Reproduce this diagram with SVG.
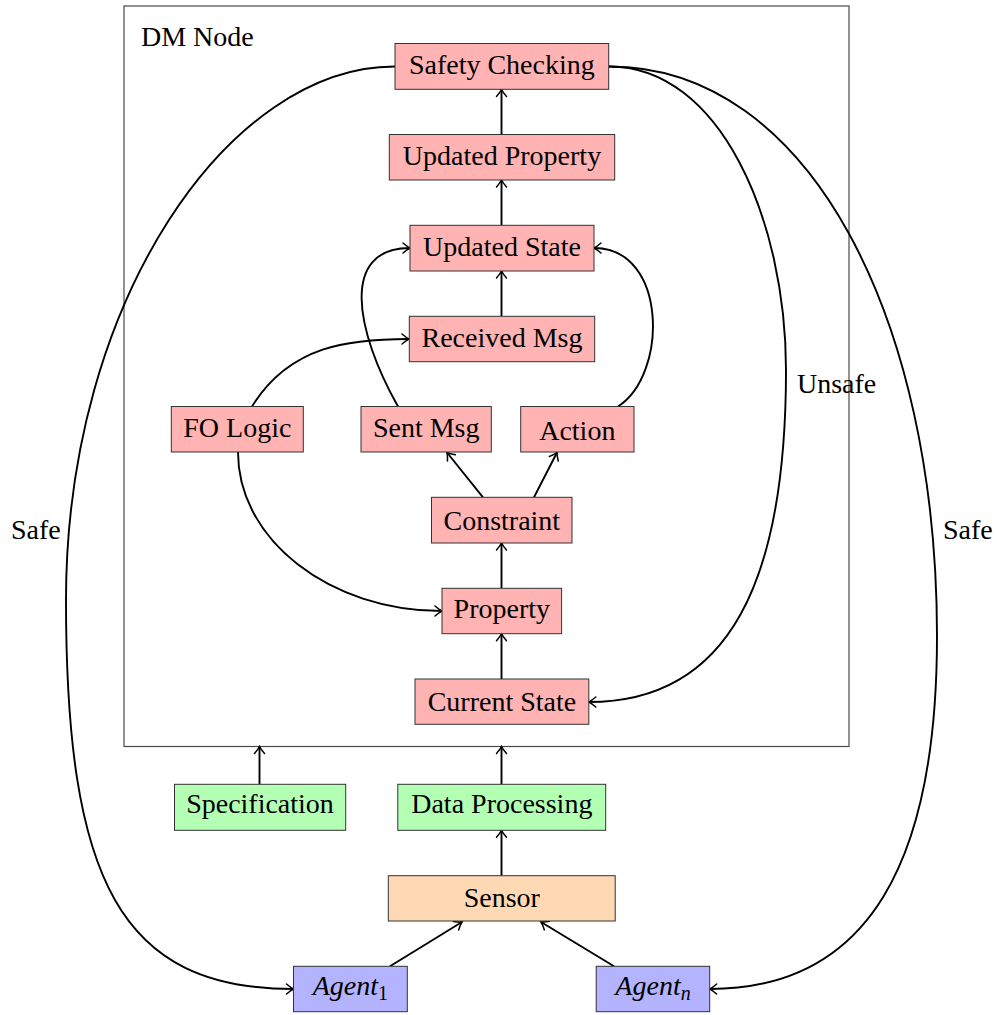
<svg xmlns="http://www.w3.org/2000/svg" width="997" height="1015" viewBox="0 0 997 1015">
<style>
text{font-family:"Liberation Serif","Times New Roman",serif;font-size:28px;fill:#000}
.n rect{stroke:#333;stroke-width:1}
.red rect{fill:#FFB3B3}
.green rect{fill:#B3FFB3}
.orange rect{fill:#FFD9B3}
.blue rect{fill:#B3B3FF}
.n text{text-anchor:middle}
#edges path{fill:none;stroke:#000;stroke-width:1.9;marker-end:url(#arr)}
</style>
<defs>
<marker id="arr" markerUnits="userSpaceOnUse" markerWidth="14" markerHeight="14" viewBox="-9 -7 11 14" refX="0" refY="0" orient="auto">
<path d="M -7 -5 Q -2.5 -1.2 0 0 Q -2.5 1.2 -7 5" fill="none" stroke="#000" stroke-width="1.5" stroke-linecap="round"/>
</marker>
</defs>
<rect id="dmnode" x="124" y="6" width="725" height="740.5" fill="#fff" stroke="#4a4a4a" stroke-width="1.2"/>
<text x="141" y="46">DM Node</text>

<g id="edges">
<path d="M501.5 134.5 V89.5"/>
<path d="M501.5 225.3 V180"/>
<path d="M501.5 316.3 V271"/>
<path d="M252 406.5 C290 345 350 339 409 339"/>
<path d="M398 406.5 C355 330 340 248 410 248"/>
<path d="M618 406.5 C668 375 668 248 594 248"/>
<path d="M483 497.3 L447 452.5"/>
<path d="M534 497.3 L557 452.5"/>
<path d="M501.5 588.3 V543"/>
<path d="M238 452 C238 540 330 611 442 611"/>
<path d="M501.5 679 V633.7"/>
<path d="M608.7 66.5 C720 66 786 220 786 370 C786 580 730 702 588.8 702"/>
<path d="M395 66.5 C230 66 66 300 66 600 C66 880 120 989 293.5 989"/>
<path d="M608.7 66.5 C810 66 937 320 937 636 C937 860 870 989 709.7 989"/>
<path d="M259.5 784.3 V746.5"/>
<path d="M501.5 784.3 V746.5"/>
<path d="M501.5 875.7 V830.3"/>
<path d="M390 966.3 L462 922"/>
<path d="M614 966.3 L541 922"/>
</g>
<text x="11" y="539">Safe</text>
<text x="797" y="393">Unsafe</text>
<text x="943" y="539">Safe</text>

<g id="safety" class="n red"><rect x="395" y="43.5" width="213.7" height="45.8"/><text x="501.8" y="74">Safety Checking</text></g>
<g id="updprop" class="n red"><rect x="389.3" y="134.5" width="225.4" height="45.5"/><text x="502" y="165">Updated Property</text></g>
<g id="updstate" class="n red"><rect x="410" y="225.3" width="184" height="45.7"/><text x="502" y="256">Updated State</text></g>
<g id="recv" class="n red"><rect x="409.3" y="316.3" width="185.4" height="45.4"/><text x="502" y="347">Received Msg</text></g>
<g id="fologic" class="n red"><rect x="171.3" y="406.5" width="132" height="45.5"/><text x="237.3" y="437">FO Logic</text></g>
<g id="sent" class="n red"><rect x="361" y="406.5" width="130.3" height="45.5"/><text x="426.2" y="437">Sent Msg</text></g>
<g id="action" class="n red"><rect x="520.7" y="406.5" width="113.3" height="45.5"/><text x="577.3" y="440">Action</text></g>
<g id="constraint" class="n red"><rect x="431.5" y="497.3" width="140.5" height="45.7"/><text x="501.8" y="530">Constraint</text></g>
<g id="property" class="n red"><rect x="442" y="588.3" width="119.6" height="45.4"/><text x="501.8" y="618">Property</text></g>
<g id="current" class="n red"><rect x="415" y="679" width="173.8" height="45.3"/><text x="501.9" y="711">Current State</text></g>
<g id="spec" class="n green"><rect x="174.5" y="784.3" width="171.2" height="46"/><text x="260" y="813">Specification</text></g>
<g id="dataproc" class="n green"><rect x="397.8" y="784.3" width="207.9" height="46"/><text x="501.8" y="813">Data Processing</text></g>
<g id="sensor" class="n orange"><rect x="388.3" y="875.7" width="226.9" height="45.3"/><text x="501.8" y="907">Sensor</text></g>
<g id="agent1" class="n blue"><rect x="293.5" y="966.3" width="113.8" height="45.4"/><text x="350.4" y="995"><tspan font-style="italic">Agent</tspan><tspan font-size="20" dy="5">1</tspan></text></g>
<g id="agentn" class="n blue"><rect x="596.2" y="966.3" width="113.5" height="45.4"/><text x="653" y="995"><tspan font-style="italic">Agent</tspan><tspan font-size="20" font-style="italic" dy="5">n</tspan></text></g>
</svg>
